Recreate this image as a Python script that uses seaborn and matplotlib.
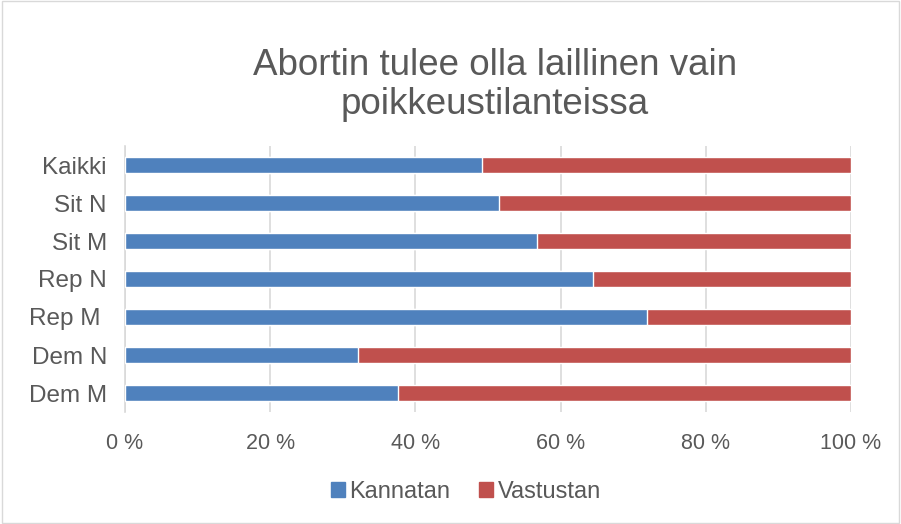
import matplotlib
matplotlib.use("Agg")
import matplotlib.pyplot as plt
import seaborn as sns
import pandas as pd
from matplotlib.patches import Patch, Rectangle

# data (percent)
categories = ["Kaikki", "Sit N", "Sit M", "Rep N", "Rep M ", "Dem N", "Dem M"]
kannatan = [49.2, 51.5, 56.7, 64.4, 71.9, 32.1, 37.6]
vastustan = [100 - k for k in kannatan]
tick_labels = ["0 %", "20 %", "40 %", "60 %", "80 %", "100 %"]

BLUE = "#4f81bd"
RED = "#c0504d"
TEXT = "#595959"

df = pd.DataFrame({"ryhma": categories, "Kannatan": kannatan, "Vastustan": vastustan})
df["yht"] = df["Kannatan"] + df["Vastustan"]

sns.set_style("white")
plt.rcParams["font.family"] = ["Liberation Sans", "DejaVu Sans"]

fig = plt.figure(figsize=(9.01, 5.24), dpi=100)
ax = fig.add_axes([125 / 901, 1 - 412 / 524, 726 / 901, 266 / 524])

# stacked bars: full length in red, Kannatan part in blue on top
sns.barplot(data=df, y="ryhma", x="yht", color=RED, width=0.4, orient="h",
            saturation=1, ax=ax, zorder=3)
sns.barplot(data=df, y="ryhma", x="Kannatan", color=BLUE, width=0.4, orient="h",
            saturation=1, ax=ax, zorder=3)

ax.set_xlim(0, 100)
ax.set_xticks(range(0, 101, 20))
ax.set_xticklabels(tick_labels)
ax.set_xlabel("")
ax.set_ylabel("")
ax.grid(axis="x", color="#d9d9d9", linewidth=1.2, zorder=0)
ax.grid(axis="y", visible=False)
for s in ["top", "right", "bottom"]:
    ax.spines[s].set_visible(False)
ax.spines["left"].set_color("#d9d9d9")
ax.spines["left"].set_linewidth(1.2)
ax.tick_params(axis="y", length=0, labelsize=17.5, colors=TEXT, pad=13)
ax.tick_params(axis="x", length=0, labelsize=15.5, colors=TEXT, pad=15)

fig.text(0.549, 0.838, "Abortin tulee olla laillinen vain\npoikkeustilanteissa",
         ha="center", va="center", fontsize=26.5, color=TEXT, linespacing=1.12)

handles = [Patch(color=BLUE, label="Kannatan"), Patch(color=RED, label="Vastustan")]
fig.legend(handles=handles, loc="center", bbox_to_anchor=(0.517, 0.061), ncol=2,
           frameon=False, fontsize=17, labelcolor=TEXT, handlelength=0.6,
           handleheight=0.6, handletextpad=0.2, columnspacing=1.2)

# chart border
fig.patches.append(Rectangle((0.002, 0.002), 0.996, 0.996, transform=fig.transFigure,
                             fill=False, edgecolor="#d9d9d9", linewidth=1))

fig.savefig("out.png", dpi=100)
plt.close(fig)
